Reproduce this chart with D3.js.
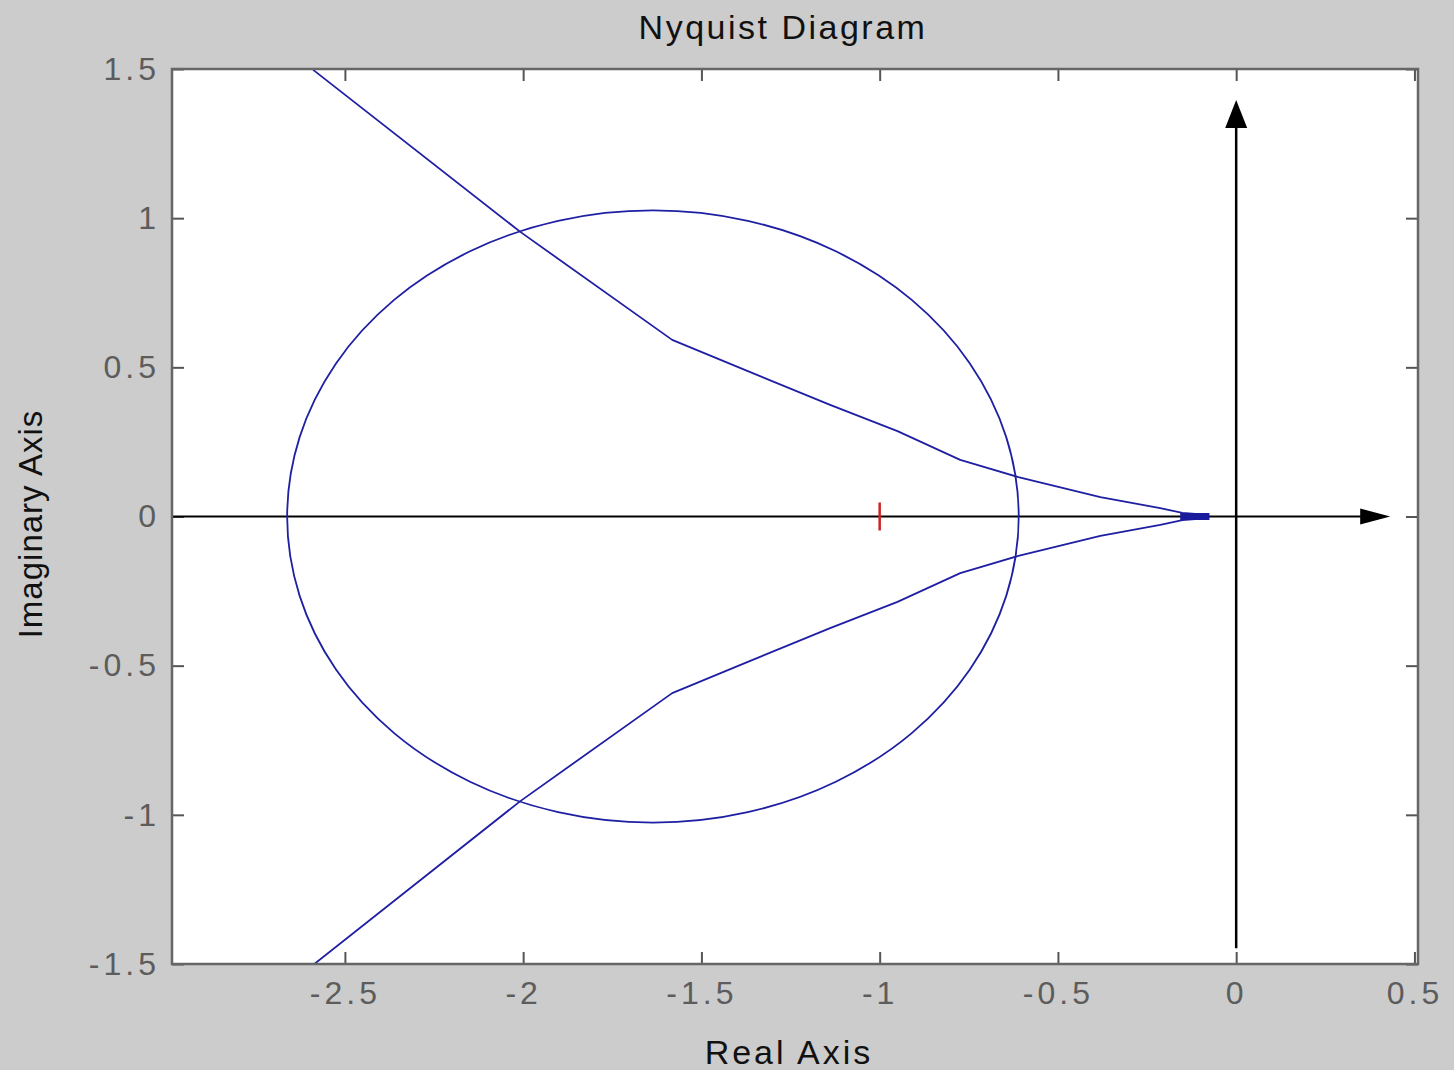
<!DOCTYPE html>
<html>
<head>
<meta charset="utf-8">
<script src="https://cdn.jsdelivr.net/npm/d3@7"></script>
<style>
  html, body { margin: 0; padding: 0; background: #cccccc; }
  svg { display: block; }
  .tick text { font-family: "Liberation Sans", Arial, sans-serif; }
</style>
</head>
<body>
<svg id="chart" width="1454" height="1070"></svg>
<script>
// Axis ticks
const xTicks = [-2.5, -2, -1.5, -1, -0.5, 0, 0.5];
const xTickLabels = ["-2.5", "-2", "-1.5", "-1", "-0.5", "0", "0.5"];
const yTicks = [-1.5, -1, -0.5, 0, 0.5, 1, 1.5];
const yTickLabels = ["-1.5", "-1", "-0.5", "0", "0.5", "1", "1.5"];

// Closed loop (real / imaginary parts)
const loopRe = [-0.610, -0.645, -0.747, -0.910, -1.123, -1.370, -1.636, -1.902, -2.149, -2.362, -2.525, -2.627,
                -2.662, -2.627, -2.525, -2.362, -2.149, -1.902, -1.636, -1.370, -1.123, -0.910, -0.747, -0.645];
const loopIm = [0.000, 0.266, 0.513, 0.726, 0.889, 0.991, 1.026, 0.991, 0.889, 0.726, 0.513, 0.266,
                0.000, -0.266, -0.513, -0.726, -0.889, -0.991, -1.026, -0.991, -0.889, -0.726, -0.513, -0.266];

// Open branch, positive frequencies
const upperRe = [-2.589, -2.008, -1.582, -1.363, -1.139, -0.950, -0.774, -0.611, -0.381, -0.213, -0.151, -0.078];
const upperIm = [1.497, 0.954, 0.592, 0.484, 0.374, 0.286, 0.190, 0.132, 0.065, 0.028, 0.012, 0.005];
// Open branch, negative frequencies
const lowerRe = [-2.589, -2.008, -1.582, -1.363, -1.139, -0.950, -0.774, -0.611, -0.381, -0.213, -0.151, -0.078];
const lowerIm = [-1.503, -0.954, -0.592, -0.484, -0.374, -0.286, -0.190, -0.132, -0.065, -0.028, -0.012, -0.005];

// Dense tail where both branches converge near the origin
const tailRe = [-0.157, -0.075];
const tailIm = [0, 0];

// Critical point
const critRe = -1;
const critIm = 0;

// Axis arrows
const realAxisRe = [-2.985, 0.432];
const imagAxisIm = [-1.447, 1.396];

const svg = d3.select("#chart");
const L = 172, R = 1418, T = 69, B = 964;

const x = d3.scaleLinear().domain([-2.985, 0.51]).range([L, R]);
const y = d3.scaleLinear().domain([-1.5, 1.5]).range([B, T]);

// plot background
svg.append("rect").attr("x", L).attr("y", T).attr("width", R - L).attr("height", B - T)
  .attr("fill", "#ffffff");

svg.append("defs").append("clipPath").attr("id", "plotclip")
  .append("rect").attr("x", L).attr("y", T).attr("width", R - L).attr("height", B - T);

const tickColor = "#555555";
const labelStyle = (sel) => sel.selectAll("text")
  .attr("fill", "#5c5c5c")
  .style("font-size", "32px")
  .style("letter-spacing", "4px");

// bottom axis with labels
const gx = svg.append("g").attr("transform", `translate(0,${B})`)
  .call(d3.axisBottom(x).tickValues(xTicks).tickFormat((d, i) => xTickLabels[i])
    .tickSizeInner(-12).tickSizeOuter(0).tickPadding(17));
gx.select(".domain").remove();
gx.selectAll("line").attr("stroke", tickColor).attr("stroke-width", 2);
labelStyle(gx);

// top axis, ticks only
const gxt = svg.append("g").attr("transform", `translate(0,${T})`)
  .call(d3.axisTop(x).tickValues(xTicks).tickFormat("").tickSizeInner(-12).tickSizeOuter(0));
gxt.select(".domain").remove();
gxt.selectAll("line").attr("stroke", tickColor).attr("stroke-width", 2);

// left axis with labels
const gy = svg.append("g").attr("transform", `translate(${L},0)`)
  .call(d3.axisLeft(y).tickValues(yTicks).tickFormat((d, i) => yTickLabels[i])
    .tickSizeInner(-12).tickSizeOuter(0).tickPadding(12));
gy.select(".domain").remove();
gy.selectAll("line").attr("stroke", tickColor).attr("stroke-width", 2);
labelStyle(gy);

// right axis, ticks only
const gyr = svg.append("g").attr("transform", `translate(${R},0)`)
  .call(d3.axisRight(y).tickValues(yTicks).tickFormat("").tickSizeInner(-12).tickSizeOuter(0));
gyr.select(".domain").remove();
gyr.selectAll("line").attr("stroke", tickColor).attr("stroke-width", 2);

const plot = svg.append("g").attr("clip-path", "url(#plotclip)");

// coordinate axes through the origin
plot.append("line")
  .attr("x1", x(realAxisRe[0])).attr("x2", x(realAxisRe[1]) - 20)
  .attr("y1", y(0)).attr("y2", y(0))
  .attr("stroke", "#000").attr("stroke-width", 2);
plot.append("path")
  .attr("d", `M${x(realAxisRe[1])},${y(0)} L${x(realAxisRe[1]) - 30},${y(0) - 8} L${x(realAxisRe[1]) - 30},${y(0) + 8} Z`)
  .attr("fill", "#000");

plot.append("line")
  .attr("x1", x(0)).attr("x2", x(0))
  .attr("y1", y(imagAxisIm[0])).attr("y2", y(imagAxisIm[1]) + 20)
  .attr("stroke", "#000").attr("stroke-width", 2.5);
plot.append("path")
  .attr("d", `M${x(0)},${y(imagAxisIm[1])} L${x(0) - 11},${y(imagAxisIm[1]) + 28} L${x(0) + 11},${y(imagAxisIm[1]) + 28} Z`)
  .attr("fill", "#000");

const curveColor = "#1f1fa3";

const loopPts = loopRe.map((r, i) => [r, loopIm[i]]);
plot.append("path")
  .attr("d", d3.line().x(d => x(d[0])).y(d => y(d[1])).curve(d3.curveCatmullRomClosed)(loopPts))
  .attr("fill", "none").attr("stroke", curveColor).attr("stroke-width", 1.8);

const branchLine = d3.line().x(d => x(d[0])).y(d => y(d[1]));
plot.append("path")
  .attr("d", branchLine(upperRe.map((r, i) => [r, upperIm[i]])))
  .attr("fill", "none").attr("stroke", curveColor).attr("stroke-width", 1.8)
  .attr("stroke-linejoin", "round");
plot.append("path")
  .attr("d", branchLine(lowerRe.map((r, i) => [r, lowerIm[i]])))
  .attr("fill", "none").attr("stroke", curveColor).attr("stroke-width", 1.8)
  .attr("stroke-linejoin", "round");

plot.append("line")
  .attr("x1", x(tailRe[0])).attr("x2", x(tailRe[1]))
  .attr("y1", y(tailIm[0])).attr("y2", y(tailIm[1]))
  .attr("stroke", "#1a1a9c").attr("stroke-width", 7);

// critical point marker
plot.append("line")
  .attr("x1", x(critRe)).attr("x2", x(critRe))
  .attr("y1", y(critIm) - 14).attr("y2", y(critIm) + 14)
  .attr("stroke", "#cc2222").attr("stroke-width", 2.5);

// frame
svg.append("rect").attr("x", L).attr("y", T).attr("width", R - L).attr("height", B - T)
  .attr("fill", "none").attr("stroke", "#666666").attr("stroke-width", 2.5);

// titles
svg.append("text").attr("x", 783).attr("y", 39).attr("text-anchor", "middle")
  .attr("font-family", "Liberation Sans, Arial, sans-serif").attr("font-size", 34)
  .attr("letter-spacing", "2.5px").attr("fill", "#111").text("Nyquist Diagram");
svg.append("text").attr("x", 789).attr("y", 1064).attr("text-anchor", "middle")
  .attr("font-family", "Liberation Sans, Arial, sans-serif").attr("font-size", 34)
  .attr("letter-spacing", "3px").attr("fill", "#111").text("Real Axis");
svg.append("text").attr("transform", "translate(42,524) rotate(-90)").attr("text-anchor", "middle")
  .attr("font-family", "Liberation Sans, Arial, sans-serif").attr("font-size", 33)
  .attr("letter-spacing", "1px").attr("fill", "#111").text("Imaginary Axis");
</script>
</body>
</html>
